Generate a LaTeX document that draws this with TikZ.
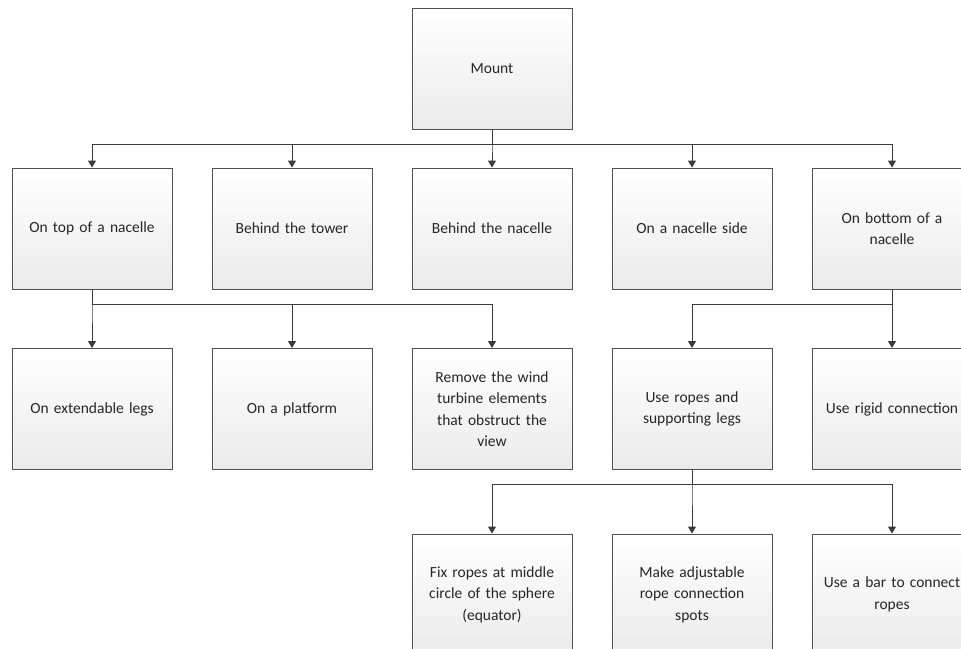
\documentclass[tikz,border=0pt]{standalone}
\usepackage{fontspec}
\setmainfont{Carlito}
\usetikzlibrary{arrows.meta}

\definecolor{boxline}{HTML}{505050}
\definecolor{boxbottom}{HTML}{EBEBEB}
\definecolor{linkline}{HTML}{3C3C3C}
\definecolor{labeltext}{HTML}{262626}

\tikzset{
  box/.style={draw=boxline, line width=0.9pt, top color=white, bottom color=boxbottom,
    minimum width=160pt, minimum height=121pt, inner sep=0pt,
    text width=150pt, align=center, text=labeltext,
    font=\fontsize{15.5}{21.5}\selectfont},
  link/.style={draw=linkline, line width=1pt,
    -{Triangle[length=7pt,width=8pt]}},
}

\begin{document}
\begin{tikzpicture}[x=1pt,y=-1pt]
  \useasboundingbox (0,0) rectangle (961,648);
  \clip (0,0) rectangle (961,648);

  % root
  \node[box] (mount) at (492,68.5) {Mount};

  % first level
  \node[box] (top)    at ( 92,228.5) {On top of a nacelle};
  \node[box] (tower)  at (292,228.5) {Behind the tower};
  \node[box] (behind) at (492,228.5) {Behind the nacelle};
  \node[box] (side)   at (692,228.5) {On a nacelle side};
  \node[box] (bottom) at (892,228.5) {On bottom of a\\nacelle};

  % second level
  \node[box] (legs)     at ( 92,409) {On extendable legs};
  \node[box] (platform) at (292,409) {On a platform};
  \node[box] (remove)   at (492,409) {Remove the wind\\turbine elements\\that obstruct the\\view};
  \node[box] (ropes)    at (692,409) {Use ropes and\\supporting legs};
  \node[box] (rigid)    at (892,409) {\makebox[150pt][c]{Use rigid connection}};

  % third level
  \node[box] (equator) at (492,594.5) {Fix ropes at middle\\circle of the sphere\\(equator)};
  \node[box] (spots)   at (692,594.5) {Make adjustable\\rope connection\\spots};
  \node[box] (bar)     at (892,594.5) {\makebox[150pt][c]{Use a bar to connect}\\ropes};

  % connectors: mount -> first level
  \foreach \c in {top,tower,behind,side,bottom}
    \draw[link] (mount.south) -- ++(0,15) -| (\c.north);

  % on top of a nacelle -> second level
  \foreach \c in {legs,platform,remove}
    \draw[link] (top.south) -- ++(0,15) -| (\c.north);

  % on bottom of a nacelle -> second level
  \foreach \c in {ropes,rigid}
    \draw[link] (bottom.south) -- ++(0,15) -| (\c.north);

  % ropes and legs -> third level
  \foreach \c in {equator,spots,bar}
    \draw[link] (ropes.south) -- ++(0,15) -| (\c.north);
\end{tikzpicture}
\end{document}
